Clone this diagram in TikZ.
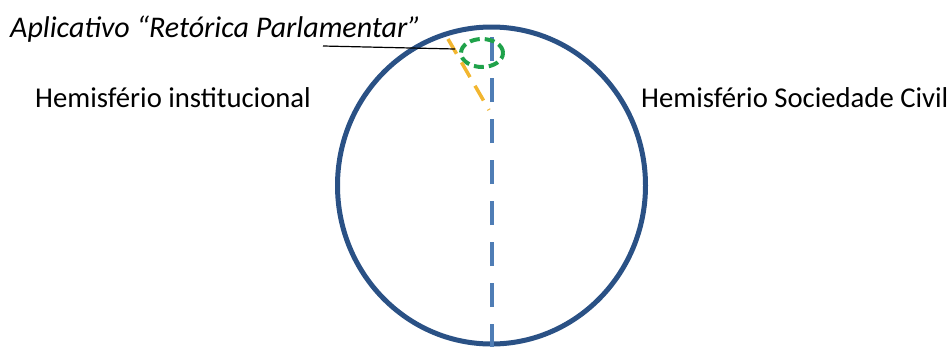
\documentclass[tikz,border=0pt]{standalone}
\usepackage{fontspec}
\setmainfont{Carlito}
\usepackage{xcolor}
\usepackage{tikz}
\usetikzlibrary{shapes,positioning}

\definecolor{globeblue}{HTML}{2A5185}
\definecolor{axisblue}{HTML}{4F7DB5}
\definecolor{appgreen}{HTML}{1FA24A}
\definecolor{appyellow}{HTML}{F2B630}

\begin{document}
\begin{tikzpicture}[
    x=1pt, y=-1pt,
    label/.style={anchor=base west, inner sep=0pt, font=\fontsize{28.7}{32}\selectfont},
    globe/.style={ellipse, draw=globeblue, line width=5pt, minimum width=308pt, minimum height=317pt, inner sep=0pt},
    axis/.style={draw=axisblue, line width=4pt, dash pattern=on 24pt off 17pt},
    app/.style={ellipse, draw=appgreen, line width=4pt, dash pattern=on 10pt off 5pt, minimum width=42pt, minimum height=28pt, inner sep=0pt},
    hint/.style={draw=appyellow, line width=3.5pt, dash pattern=on 17pt off 10pt}
]
\useasboundingbox (0,0) rectangle (950,346);

\node[globe] (globe) at (491.5,185.5) {};
\coordinate (axisend) at (491.5,348);
\draw[axis] (axisend) -- (globe.north);

\node[app] (appmark) at (482,53) {};
\coordinate (hinttop) at (448,39);
\coordinate (hintbot) at (489,110);
\draw[hint] (hinttop) -- (hintbot);

\node[label] (inst) at (35,107) {Hemisfério institucional};
\node[label] (civil) at (641,107) {Hemisfério Sociedade Civil};
\node[label, font=\fontsize{30}{34}\selectfont\itshape] (appname) at (10,37) {Aplicativo “Retórica Parlamentar”};

\coordinate (leadstart) at (323,46);
\coordinate (leadend) at (455,49);
\draw[line width=1.2pt] (leadstart) -- (leadend);
\end{tikzpicture}
\end{document}
